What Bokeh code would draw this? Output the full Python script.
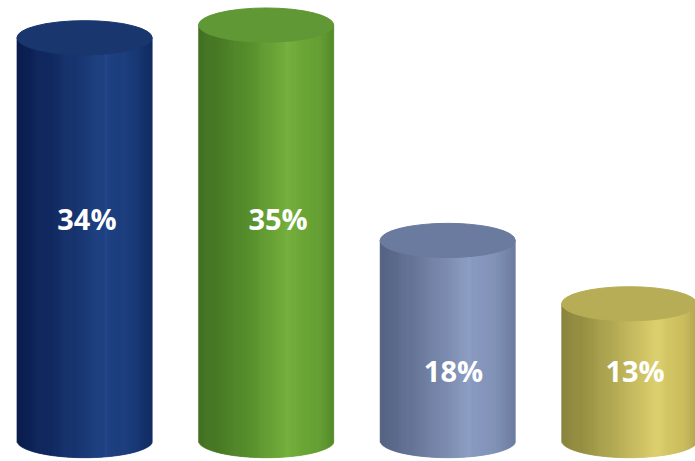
import numpy as np
from bokeh.plotting import figure
from bokeh.models import Range1d, ColumnDataSource
from bokeh.core.properties import value
from bokeh.embed import file_html
from bokeh.resources import INLINE

# ---- data ----
categories = ["A", "B", "C", "D"]
values = [34, 35, 18, 13]
labels = ["34%", "35%", "18%", "13%"]

# ---- style ----
side_stops = [
    [(0.0, "#0c1f4e"), (0.15, "#10265b"), (0.45, "#1a3772"), (0.64, "#1f4383"),
     (0.66, "#24488a"), (0.68, "#1f4282"), (0.88, "#1b3b78"), (1.0, "#112a60")],
    [(0.0, "#437023"), (0.15, "#4a7b27"), (0.40, "#5a922f"), (0.64, "#73ae3d"),
     (0.66, "#77b241"), (0.68, "#72ad3c"), (0.88, "#66a034"), (1.0, "#578c2d")],
    [(0.0, "#566482"), (0.15, "#5f6e8f"), (0.40, "#7584a7"), (0.64, "#8a9bc0"),
     (0.66, "#8fa0c4"), (0.68, "#8a9bc0"), (0.88, "#7f90b4"), (1.0, "#6c7ca0")],
    [(0.0, "#8a853f"), (0.15, "#979043"), (0.40, "#b5ac56"), (0.68, "#dacd6c"),
     (0.72, "#dccf70"), (0.74, "#d8cb6a"), (0.90, "#cbbd5e"), (1.0, "#b3a752")],
]
top_colors = ["#1a366f", "#619836", "#6a7b9f", "#b8ad57"]

BASE = 2.2          # level of the bottom ellipse centre
CYL_W = 0.745       # cylinder width in x units
ELL_H = 2.70        # ellipse full height in y units
NSTRIP = 140
LABEL_LEVEL = [19.7, 19.7, 7.7, 7.7]
LABEL_SHIFT = [0.013, 0.066, 0.032, 0.032]


def hex2rgb(h):
    h = h.lstrip("#")
    return np.array([int(h[i:i + 2], 16) for i in (0, 2, 4)], dtype=float)


def interp_color(stops, t):
    ts = [s[0] for s in stops]
    cs = [hex2rgb(s[1]) for s in stops]
    for k in range(len(ts) - 1):
        if ts[k] <= t <= ts[k + 1]:
            f = (t - ts[k]) / (ts[k + 1] - ts[k]) if ts[k + 1] > ts[k] else 0
            c = cs[k] * (1 - f) + cs[k + 1] * f
            return "#%02x%02x%02x" % tuple(int(round(v)) for v in c)
    return stops[-1][1]


p = figure(width=695, height=461, output_backend="svg", toolbar_location=None,
           x_range=Range1d(-0.463, 3.365), y_range=Range1d(0.55, 36.94),
           min_border=0, outline_line_color=None)
p.axis.visible = False
p.grid.visible = False
p.background_fill_color = "white"
p.border_fill_color = "white"

xs = np.arange(len(categories))

L, R, T, B, C = [], [], [], [], []
step = CYL_W / NSTRIP
for i, v in enumerate(values):
    cx = xs[i]
    for k in range(NSTRIP):
        left = cx - CYL_W / 2 + k * step
        t = (k + 0.5) / NSTRIP
        u = 2 * t - 1
        yb = BASE - (ELL_H / 2) * np.sqrt(max(0.0, 1 - u * u))
        L.append(left)
        R.append(min(left + step * 1.6, cx + CYL_W / 2))
        T.append(v)
        B.append(yb)
        C.append(interp_color(side_stops[i], t))

p.quad(left=L, right=R, top=T, bottom=B, fill_color=C, line_color=C, line_width=0.5)

src = ColumnDataSource(dict(x=xs, y=values, c=top_colors))
p.ellipse(x="x", y="y", width=CYL_W, height=ELL_H, fill_color="c",
          line_color="c", line_width=1, source=src)

lab = ColumnDataSource(dict(x=xs + np.array(LABEL_SHIFT), y=LABEL_LEVEL, t=labels))
p.text(x="x", y="y", text="t", source=lab, text_color="white",
       text_font=value("Open Sans"), text_font_style="bold",
       text_font_size="29px", text_align="center", text_baseline="middle")

open("out.html", "w").write(file_html(p, INLINE))
